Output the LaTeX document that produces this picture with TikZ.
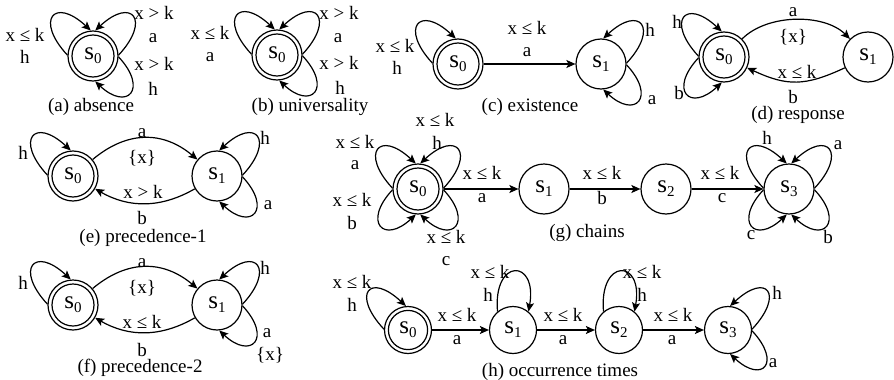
\documentclass[tikz,border=0pt]{standalone}
\usepackage{fontspec}
\setmainfont{Liberation Serif}
\usetikzlibrary{arrows.meta}
\newcommand{\labfont}{\fontsize{9.5}{11}\selectfont}
\newcommand{\statefont}{\fontsize{12.5}{14}\selectfont}
\newcommand{\sname}[1]{s\raisebox{-2pt}{\fontsize{7.5}{8}\selectfont #1}}
\tikzset{
  st/.style={circle, draw, line width=0.6pt, minimum size=25pt, inner sep=0pt, font=\statefont},
  sm/.style={minimum size=23.5pt},
  acc/.style={st, path picture={\draw[line width=0.6pt] (path picture bounding box.center) circle[radius=#1];}},
  acc/.default=10.5pt,
  arr/.style={line width=0.6pt, -{Stealth[length=4.5pt,width=4pt,inset=1pt]}},
  lab/.style={font=\labfont, inner sep=0pt},
  lp/.style={out distance=24pt, in distance=25pt},
  lpb/.style={out distance=22pt, in distance=22pt},
}
\newcommand{\loopTL}[1]{\draw[arr] (#1.178) to[lp,out=133,in=137] (#1.95);}
\newcommand{\loopTR}[1]{\draw[arr] (#1.2) to[lp,out=47,in=43] (#1.85);}
\newcommand{\loopBR}[1]{\draw[arr] (#1.-2) to[lpb,out=-47,in=-43] (#1.-85);}
\newcommand{\loopBL}[1]{\draw[arr] (#1.182) to[lpb,out=-133,in=-137] (#1.265);}
\newcommand{\loopUp}[1]{\draw[arr] (#1.130) to[out=95,in=80,distance=27pt] (#1.50);}
\begin{document}
\begin{tikzpicture}[x=0.5pt,y=0.5pt]
\useasboundingbox (0,0) rectangle (894,-380);
% (a)
\node[acc] (a0) at (93,-56) {\sname{0}};
\loopTL{a0} \loopTR{a0} \loopBR{a0}
\node[lab] (a1) at (25,-35) {x ≤ k};
\node[lab] (a2) at (25,-57) {h};
\node[lab] (a3) at (154,-13) {x > k};
\node[lab] (a4) at (153,-38) {a};
\node[lab] (a5) at (154,-64) {x > k};
\node[lab] (a6) at (153,-89) {h};
\node[lab] (ac) at (91,-107) {(a) absence};
% (b)
\node[acc] (b0) at (277,-55) {\sname{0}};
\loopTL{b0} \loopTR{b0} \loopBR{b0}
\node[lab] (b1) at (210,-33) {x ≤ k};
\node[lab] (b2) at (210,-57) {a};
\node[lab] (b3) at (339,-13) {x > k};
\node[lab] (b4) at (338,-38) {a};
\node[lab] (b5) at (339,-63) {x > k};
\node[lab] (b6) at (340,-88) {h};
\node[lab] (bc) at (310,-107) {(b) universality};
% (c)
\node[acc] (c0) at (458,-64) {\sname{0}};
\node[st] (c1) at (601,-64) {\sname{1}};
\loopTL{c0} \loopTR{c1} \loopBR{c1}
\draw[arr] (c0) -- (c1);
\node[lab] (c2) at (395,-46) {x ≤ k};
\node[lab] (c3) at (397,-68) {h};
\node[lab] (c4) at (527,-28) {x ≤ k};
\node[lab] (c5) at (527,-52) {a};
\node[lab] (c6) at (650,-30) {h};
\node[lab] (c7) at (652,-100) {a};
\node[lab] (cc) at (530,-107) {(c) existence};
% (d)
\node[acc] (d0) at (724,-57) {\sname{0}};
\node[st] (d1) at (868,-57) {\sname{1}};
\loopTL{d0} \loopBL{d0}
\draw[arr] (d0) to[out=45,in=135,distance=18pt] (d1);
\draw[arr] (d1) to[out=-155,in=-25,distance=22pt] (d0);
\node[lab] (d2) at (677,-22) {h};
\node[lab] (d3) at (679,-93) {b};
\node[lab] (d4) at (793,-12) {a};
\node[lab] (d5) at (793,-37) {\{x\}};
\node[lab] (d6) at (797,-72) {x ≤ k};
\node[lab] (d7) at (793,-97) {b};
\node[lab] (dc) at (798,-115) {(d) response};
% (e)
\node[acc] (e0) at (73,-176) {\sname{0}};
\node[st] (e1) at (217,-176) {\sname{1}};
\loopTL{e0} \loopTR{e1} \loopBR{e1}
\draw[arr] (e0) to[out=40,in=140,distance=22.5pt] (e1);
\draw[arr] (e1) to[out=-150,in=-30,distance=19.5pt] (e0);
\node[lab] (e2) at (23,-153) {h};
\node[lab] (e3) at (142,-133) {a};
\node[lab] (e4) at (142,-158) {\{x\}};
\node[lab] (e5) at (143,-192) {x > k};
\node[lab] (e6) at (142,-218) {b};
\node[lab] (e7) at (265,-138) {h};
\node[lab] (e8) at (268,-205) {a};
\node[lab] (ec) at (143,-238) {(e) precedence-1};
% (f)
\node[acc] (f0) at (73,-305) {\sname{0}};
\node[st] (f1) at (217,-305) {\sname{1}};
\loopTL{f0} \loopTR{f1} \loopBR{f1}
\draw[arr] (f0) to[out=40,in=140,distance=22.5pt] (f1);
\draw[arr] (f1) to[out=-150,in=-30,distance=19.5pt] (f0);
\node[lab] (f2) at (23,-283) {h};
\node[lab] (f3) at (142,-263) {a};
\node[lab] (f4) at (142,-288) {\{x\}};
\node[lab] (f5) at (142,-322) {x ≤ k};
\node[lab] (f6) at (142,-350) {b};
\node[lab] (f7) at (265,-268) {h};
\node[lab] (f8) at (267,-333) {a};
\node[lab] (f9) at (270,-355) {\{x\}};
\node[lab] (fc) at (140,-368) {(f) precedence-2};
% (g)
\node[acc] (g0) at (418,-189) {\sname{0}};
\node[st] (g1) at (544,-189) {\sname{1}};
\node[st] (g2) at (666,-189) {\sname{2}};
\node[st] (g3) at (789,-189) {\sname{3}};
\loopTL{g0} \loopTR{g0} \loopBL{g0} \loopBR{g0}
\loopTL{g3} \loopTR{g3} \loopBL{g3} \loopBR{g3}
\draw[arr] (g0) -- (g1);
\draw[arr] (g1) -- (g2);
\draw[arr] (g2) -- (g3);
\node[lab] (g4) at (355,-142) {x ≤ k};
\node[lab] (g5) at (355,-165) {a};
\node[lab] (g6) at (435,-120) {x ≤ k};
\node[lab] (g7) at (437,-143) {h};
\node[lab] (g8) at (352,-200) {x ≤ k};
\node[lab] (g9) at (352,-223) {b};
\node[lab] (g10) at (446,-237) {x ≤ k};
\node[lab] (g11) at (446,-261) {c};
\node[lab] (g12) at (482,-173) {x ≤ k};
\node[lab] (g13) at (482,-198) {a};
\node[lab] (g14) at (602,-173) {x ≤ k};
\node[lab] (g15) at (602,-198) {b};
\node[lab] (g16) at (720,-173) {x ≤ k};
\node[lab] (g17) at (722,-198) {c};
\node[lab] (g18) at (767,-138) {h};
\node[lab] (g19) at (838,-145) {a};
\node[lab] (g20) at (751,-235) {c};
\node[lab] (g21) at (828,-237) {b};
\node[lab] (gc) at (587,-233) {(g) chains};
% (h)
\node[acc=9.8pt,sm] (h0) at (408,-330) {\sname{0}};
\node[st,sm] (h1) at (513,-330) {\sname{1}};
\node[st,sm] (h2) at (619,-330) {\sname{2}};
\node[st,sm] (h3) at (728,-330) {\sname{3}};
\loopTL{h0} \loopUp{h1} \loopUp{h2} \loopTR{h3} \loopBR{h3}
\draw[arr] (h0) -- (h1);
\draw[arr] (h1) -- (h2);
\draw[arr] (h2) -- (h3);
\node[lab] (h4) at (352,-282) {x ≤ k};
\node[lab] (h5) at (352,-305) {h};
\node[lab] (h6) at (457,-315) {x ≤ k};
\node[lab] (h7) at (457,-340) {a};
\node[lab] (h8) at (563,-315) {x ≤ k};
\node[lab] (h9) at (563,-340) {a};
\node[lab] (h10) at (673,-315) {x ≤ k};
\node[lab] (h11) at (672,-340) {a};
\node[lab] (h12) at (490,-272) {x ≤ k};
\node[lab] (h13) at (488,-295) {h};
\node[lab] (h14) at (642,-272) {x ≤ k};
\node[lab] (h15) at (642,-295) {h};
\node[lab] (h16) at (777,-293) {h};
\node[lab] (h17) at (773,-363) {a};
\node[lab] (hc) at (560,-372) {(h) occurrence times};
\end{tikzpicture}
\end{document}
